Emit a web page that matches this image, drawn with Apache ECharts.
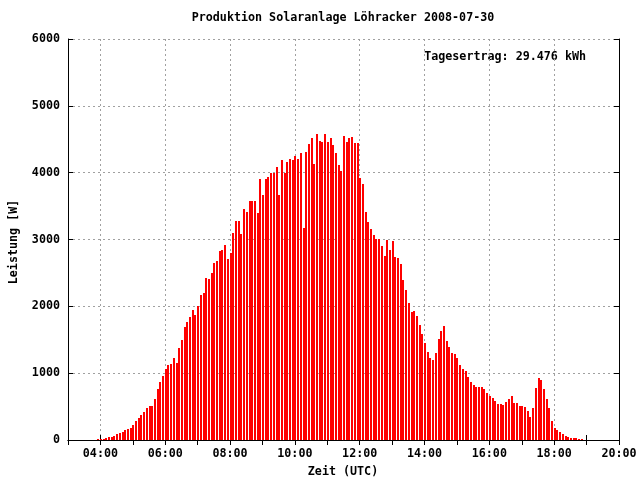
<!DOCTYPE html>
<html><head><meta charset="utf-8">
<script src="https://cdn.jsdelivr.net/npm/echarts@6/dist/echarts.min.js"></script>
<style>html,body{margin:0;padding:0;background:#fff}#c{width:640px;height:480px}</style>
</head><body><div id="c"></div>
<script>
const titleText = 'Produktion Solaranlage Löhracker 2008-07-30';
const xName = 'Zeit (UTC)';
const yName = 'Leistung [W]';
const keyText = 'Tagesertrag: 29.476 kWh';

const times = [
"03:56",
"04:01","04:06","04:11","04:16","04:21","04:26","04:31","04:36","04:41","04:46","04:51","04:56",
"05:01","05:06","05:11","05:16","05:21","05:26","05:31","05:36","05:41","05:46","05:51","05:56",
"06:01","06:06","06:11","06:16","06:21","06:26","06:31","06:36","06:41","06:46","06:51","06:56",
"07:01","07:06","07:11","07:16","07:21","07:26","07:31","07:36","07:41","07:46","07:51","07:56",
"08:01","08:06","08:11","08:16","08:21","08:26","08:31","08:36","08:41","08:46","08:51","08:56",
"09:01","09:06","09:11","09:16","09:21","09:26","09:31","09:36","09:41","09:46","09:51","09:56",
"10:01","10:06","10:11","10:16","10:21","10:26","10:31","10:36","10:41","10:46","10:51","10:56",
"11:01","11:06","11:11","11:16","11:21","11:26","11:31","11:36","11:41","11:46","11:51","11:56",
"12:01","12:06","12:11","12:16","12:21","12:26","12:31","12:36","12:41","12:46","12:51","12:56",
"13:01","13:06","13:11","13:16","13:21","13:26","13:31","13:36","13:41","13:46","13:51","13:56",
"14:01","14:06","14:11","14:16","14:21","14:26","14:31","14:36","14:41","14:46","14:51","14:56",
"15:01","15:06","15:11","15:16","15:21","15:26","15:31","15:36","15:41","15:46","15:51","15:56",
"16:01","16:06","16:11","16:16","16:21","16:26","16:31","16:36","16:41","16:46","16:51","16:56",
"17:01","17:06","17:11","17:16","17:21","17:26","17:31","17:36","17:41","17:46","17:51","17:56",
"18:01","18:06","18:11","18:16","18:21","18:26","18:31","18:36","18:41","18:46","18:51"
];

const power = [
10,20,15,30,45,45,60,90,105,120,150,165,180,225,285,330,375,420,480,510,510,615,765,870,960,1065,1125,1140,1230,1150,
1375,1495,1690,1765,1840,1945,1870,2005,2170,2200,2425,2410,2500,2650,2680,2830,2845,2920,2710,2800,
3095,3275,3275,3080,3455,3410,3575,3575,3575,3395,3905,3665,3905,3935,3995,3995,4085,3665,4190,3995,
4160,4205,4190,4250,4205,4295,3170,4310,4430,4520,4130,4580,4475,4460,4580,4460,4520,4415,4295,4115,
4025,4550,4460,4520,4535,4445,4445,3920,3830,3410,3260,3155,3065,3005,3005,2900,
2750,2990,2840,2975,2735,2720,2630,2390,2240,2050,1915,1930,1855,
1720,
1585,1450,1315,1225,1195,1300,1510,1630,1705,1480,1390,1300,1285,1225,1120,1060,1030,940,865,820,790,790,790,760,700,655,625,580,535,535,
520,565,610,655,550,550,505,505,490,430,345,475,775,925,895,760,610,475,285,180,150,120,90,60,45,30,30,30,15,15
];

const xMin = 3, xMax = 20, xStep = 1;
const yMin = 0, yMax = 6000, yStep = 1000;

const FONT_FAMILY = '"DejaVu Sans Mono", "Liberation Mono", monospace';
const FS = 11.7;
const toHours = t => { const p = t.split(':').map(Number); return p[0] + p[1] / 60; };
const data = times.map((t, i) => [toHours(t), power[i]]);
const xFmt = v => (v % 2 === 0 && v > xMin) ? String(v).padStart(2, '0') + ':00' : '';
const gridColor = '#a0a0a0';

const labelStyle = { fontFamily: FONT_FAMILY, fontSize: FS, fontWeight: 'bold', color: '#000' };
const chart = echarts.init(document.getElementById('c'), null, { renderer: 'canvas' });
chart.setOption({
  animation: false,
  backgroundColor: '#fff',
  grid: { left: 68, right: 21, top: 39, bottom: 40, containLabel: false },
  xAxis: [{
    type: 'value', min: xMin, max: xMax, interval: xStep, position: 'bottom',
    axisLine: { show: true, lineStyle: { color: '#000', width: 1 } },
    axisTick: { show: true, inside: true, length: 5, lineStyle: { color: '#000' } },
    axisLabel: Object.assign({ formatter: xFmt, margin: 8 }, labelStyle),
    splitLine: { show: true, lineStyle: { color: ['transparent', gridColor], type: [2, 3], width: 1 } }
  }, {
    type: 'value', min: xMin, max: xMax, interval: xStep, position: 'top',
    axisLine: { show: true, lineStyle: { color: '#000', width: 1 } },
    axisTick: { show: true, inside: true, length: 5, lineStyle: { color: '#000' } },
    axisLabel: { show: false },
    splitLine: { show: false }
  }],
  yAxis: [{
    type: 'value', min: yMin, max: yMax, interval: yStep, position: 'left',
    axisLine: { show: true, lineStyle: { color: '#000', width: 1 } },
    axisTick: { show: true, inside: true, length: 5, lineStyle: { color: '#000' } },
    axisLabel: Object.assign({ margin: 8, formatter: v => String(v) }, labelStyle),
    splitLine: { show: true, lineStyle: { color: gridColor, type: [2, 3], width: 1 } }
  }, {
    type: 'value', min: yMin, max: yMax, interval: yStep, position: 'right',
    axisLine: { show: true, lineStyle: { color: '#000', width: 1 } },
    axisTick: { show: true, inside: true, length: 5, lineStyle: { color: '#000' } },
    axisLabel: { show: false },
    splitLine: { show: false }
  }],
  series: [{
    type: 'custom', xAxisIndex: 0, yAxisIndex: 0, data: data, silent: true, z: 1,
    renderItem: function (params, api) {
      const top = api.coord([api.value(0), api.value(1)]);
      const base = api.coord([api.value(0), 0]);
      const x = Math.round(top[0]) - 1;
      const y0 = Math.round(top[1]);
      const y1 = Math.round(base[1]);
      return { type: 'rect', shape: { x: x, y: y0, width: 2, height: Math.max(0, y1 - y0) }, style: { fill: '#ff0000' } };
    }
  }],
  graphic: [
    { type: 'text', x: 343, y: 18, style: { text: titleText, font: 'bold ' + FS + 'px ' + FONT_FAMILY, fill: '#000', align: 'center', verticalAlign: 'middle' } },
    { type: 'text', x: 343, y: 472, style: { text: xName, font: 'bold ' + FS + 'px ' + FONT_FAMILY, fill: '#000', align: 'center', verticalAlign: 'middle' } },
    { type: 'text', x: 14, y: 242, rotation: Math.PI / 2, style: { text: yName, font: 'bold ' + FS + 'px ' + FONT_FAMILY, fill: '#000', align: 'center', verticalAlign: 'middle' } },
    { type: 'text', x: 586, y: 57, style: { text: keyText, font: 'bold ' + FS + 'px ' + FONT_FAMILY, fill: '#000', align: 'right', verticalAlign: 'middle' } }
  ]
});
</script>
</body></html>
